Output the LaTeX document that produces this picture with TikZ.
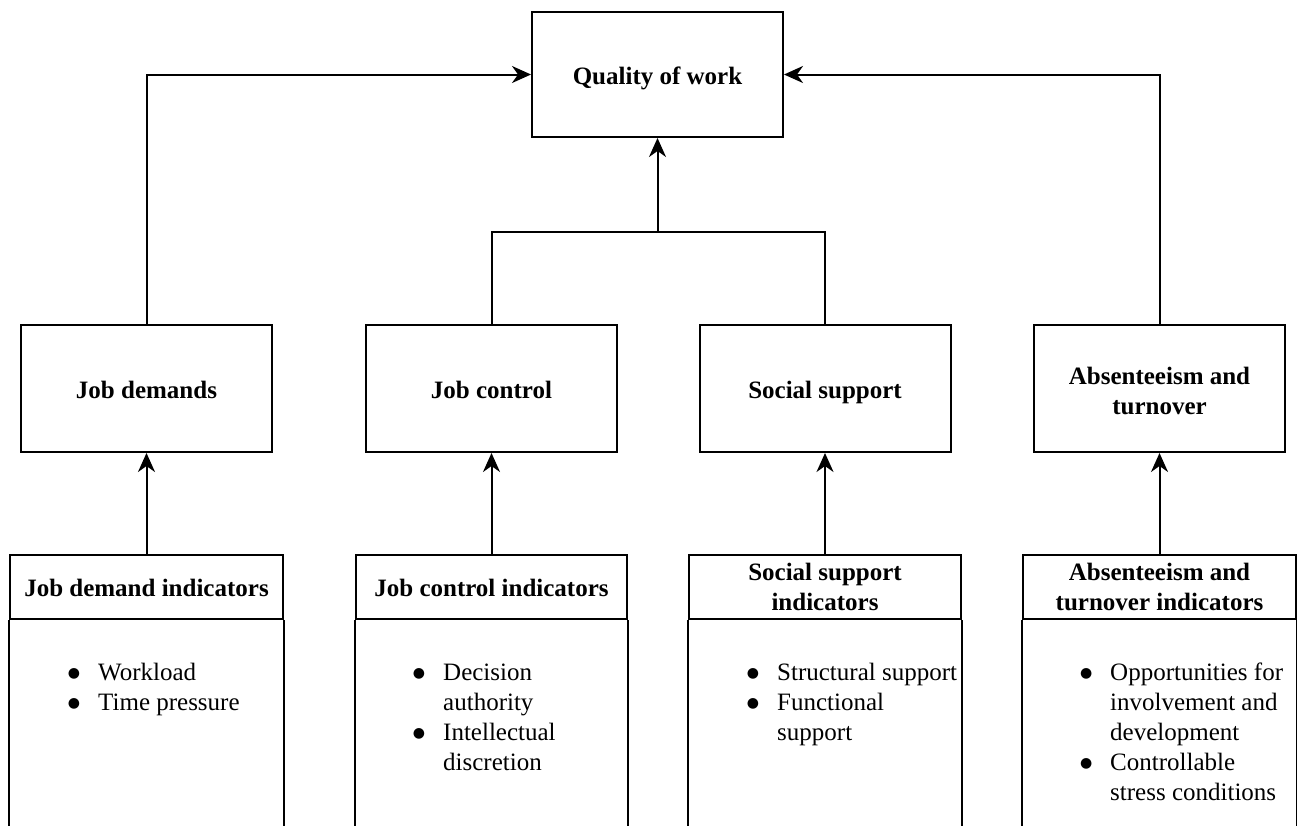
\documentclass[tikz,border=0pt]{standalone}
\usepackage{fontspec}
\setmainfont{Liberation Serif}
\newfontfamily\dejavu{DejaVu Sans}
\usetikzlibrary{arrows.meta}
\begin{document}
\begin{tikzpicture}[x=1pt,y=-1pt,
  every node/.style={font=\fontsize{25}{30}\selectfont},
  box/.style={draw, line width=2pt, rectangle, inner sep=0pt, align=center, font=\fontsize{25}{30}\selectfont\bfseries},
  oneline/.style={text height=19pt, text depth=0pt},
  midbox/.style={box, minimum width=251pt, minimum height=127pt},
  headbox/.style={box, minimum width=273pt, minimum height=64pt},
  line/.style={line width=2pt},
  arr/.style={line width=2pt, -{Stealth[length=19pt,width=17pt,inset=6pt]}},
  body/.style={anchor=north west, inner sep=0pt}
]
\clip (0,0) rectangle (1297,825);
\fill[white] (0,0) rectangle (1297,825);

\node[box, oneline, text height=20pt, minimum width=251pt, minimum height=125pt] (q) at (657.5,74.5) {Quality of work};

\node[midbox, oneline] (jd) at (146.5,388.5) {Job demands};
\node[midbox, oneline] (jc) at (491.5,388.5) {Job control};
\node[midbox, oneline] (ss) at (825,388.5) {Social support};
\node[midbox] (at) at (1159.5,388.5) {\rule{0pt}{23pt}Absenteeism and\\turnover};

\node[headbox, oneline] (jdi) at (146.5,587) {Job demand indicators};
\node[headbox, oneline, minimum width=271pt] (jci) at (491.5,587) {Job control indicators};
\node[headbox, minimum width=272pt] (ssi) at (825,587) {Social support\\indicators};
\node[headbox] (ati) at (1159.5,587) {Absenteeism and\\turnover indicators};

\foreach \n in {jdi,jci,ssi,ati}{
  \draw[line] (\n.south west) -- ++(0,240);
  \draw[line] (\n.south east) -- ++(0,240);
}

\newcommand{\bul}{\llap{\raisebox{3pt}{\dejavu\fontsize{14}{14}\selectfont ●}\hspace{18pt}}}
\node[body] (jdt) at (98,659) {\begin{tabular}[t]{@{}l@{}}\bul Workload\\ \bul Time pressure\end{tabular}};
\node[body] (jct) at (443,659) {\begin{tabular}[t]{@{}l@{}}\bul Decision\\ authority\\ \bul Intellectual\\ discretion\end{tabular}};
\node[body] (sst) at (777,659) {\begin{tabular}[t]{@{}l@{}}\bul Structural support\\ \bul Functional\\ support\end{tabular}};
\node[body] (att) at (1110,659) {\begin{tabular}[t]{@{}l@{}}\bul Opportunities for\\ involvement and\\ development\\ \bul Controllable\\ stress conditions\end{tabular}};

\draw[arr] (jdi.north) -- (jd.south);
\draw[arr] (jci.north) -- (jc.south);
\draw[arr] (ssi.north) -- (ss.south);
\draw[arr] (ati.north) -- (at.south);

\draw[arr] (jd.north) |- (q.west);
\draw[arr] (at.north) |- (q.east);
\coordinate (m) at (657.5,232);
\draw[line] (jc.north) |- (m) -| (ss.north);
\draw[arr] (m) -- (q.south);
\end{tikzpicture}
\end{document}
